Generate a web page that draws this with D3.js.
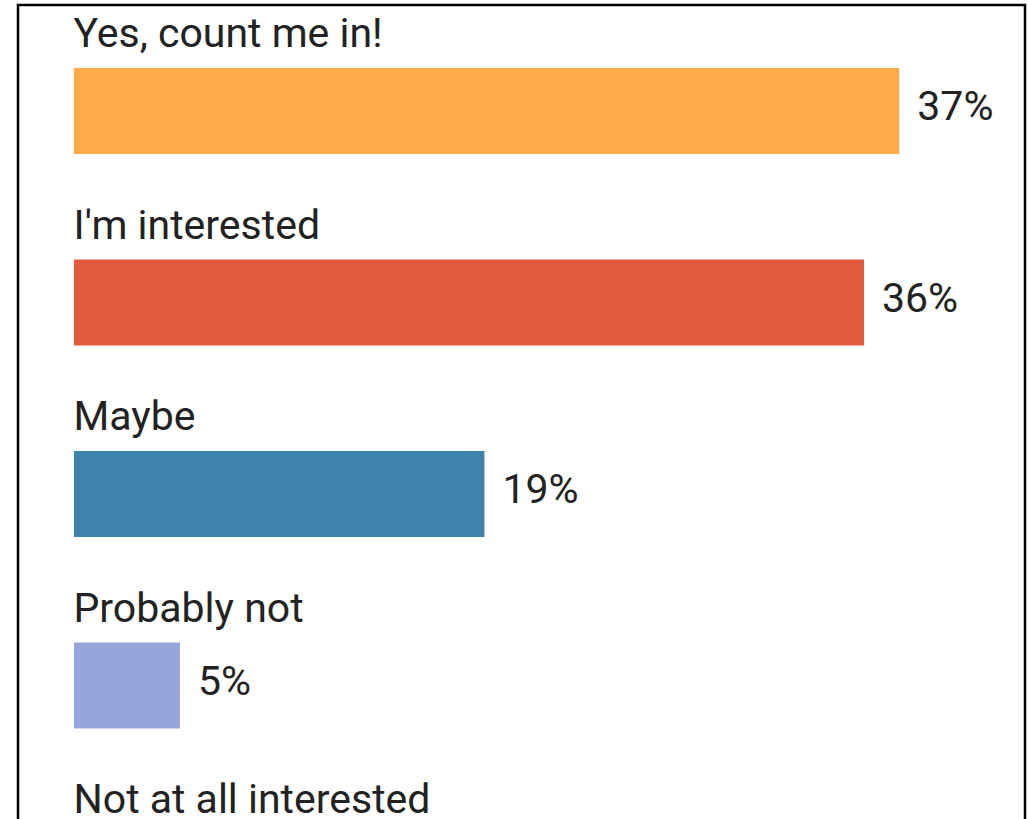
<!DOCTYPE html>
<html>
<head>
<meta charset="utf-8">
<script src="https://cdn.jsdelivr.net/npm/d3@7"></script>
<style>
  html, body { margin: 0; padding: 0; background: #fff; overflow: hidden; }
  svg { display: block; }
</style>
</head>
<body>
<svg id="chart" width="1028" height="819"></svg>
<script>
// ---- data ----
const categories = ["Yes, count me in!", "I'm interested", "Maybe", "Probably not", "Not at all interested"];
const values = [37.4, 35.8, 18.6, 4.8, 3.4];
const colors = ["#FFAB4A", "#E35A3F", "#3E83AB", "#96A6DB", "#7A5A9E"];

const svg = d3.select("#chart");

// frame
svg.append("rect")
  .attr("x", 18).attr("y", 5)
  .attr("width", 1007).attr("height", 900)
  .attr("fill", "none").attr("stroke", "#000").attr("stroke-width", 2.5);

const y = d3.scaleBand()
  .domain(categories)
  .range([68, 920])
  .paddingInner(0.551)
  .paddingOuter(0);

const x = d3.scaleLinear()
  .domain([0, 37.4])
  .range([74, 899.3]);

const data = categories.map((c, i) => ({ c, v: values[i], col: colors[i] }));
const fmt = v => d3.format(".0f")(v) + "%";

const g = svg.append("g")
  .attr("font-family", "Roboto, 'Noto Sans', sans-serif")
  .attr("font-size", 41)
  .attr("fill", "#222");

const rows = g.selectAll("g.row").data(data).join("g").attr("class", "row");

rows.append("text")
  .attr("x", 73.5)
  .attr("y", d => y(d.c) - 21)
  .text(d => d.c);

rows.append("rect")
  .attr("x", x(0))
  .attr("y", d => y(d.c))
  .attr("width", d => x(d.v) - x(0))
  .attr("height", y.bandwidth())
  .attr("fill", d => d.col);

rows.append("text")
  .attr("x", d => x(d.v) + 18)
  .attr("y", d => y(d.c) + 52)
  .text(d => fmt(d.v));
</script>
</body>
</html>
